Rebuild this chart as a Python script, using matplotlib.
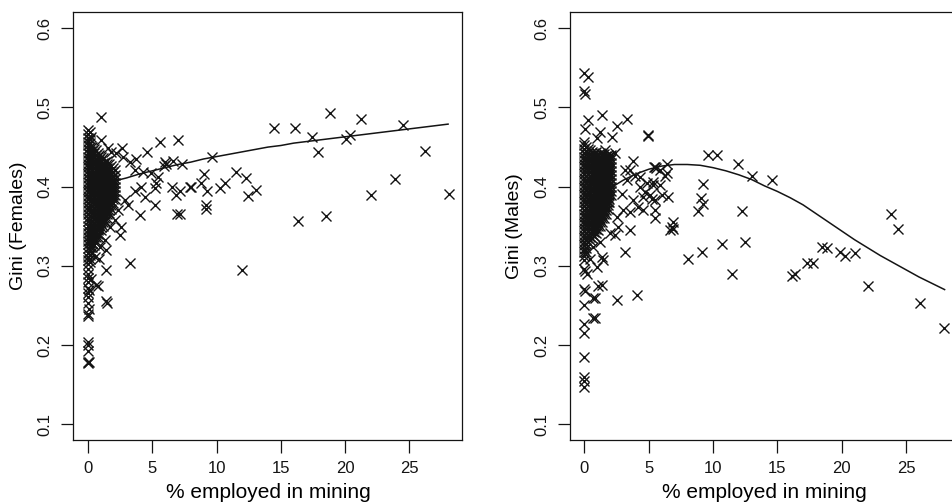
import numpy as np
import matplotlib
matplotlib.use("Agg")
import matplotlib.pyplot as plt

plt.rcParams['font.family'] = ['Liberation Sans', 'DejaVu Sans']

# ---------------- Females panel ----------------
# dense block of counties with little mining (columns of x, y values)
fem_blob_cols = [0.0, 0.15, 0.3, 0.45, 0.6, 0.75, 0.9, 1.05, 1.2, 1.35, 1.5, 1.65, 1.8, 1.95, 2.1]
fem_blob_vals = [
    [0.302, 0.307, 0.311, 0.316, 0.322, 0.327, 0.331, 0.336, 0.341, 0.345, 0.350, 0.356,
     0.361, 0.365, 0.370, 0.374, 0.379, 0.384, 0.388, 0.393, 0.397, 0.402, 0.406, 0.411,
     0.416, 0.420, 0.425, 0.429, 0.434, 0.438, 0.443, 0.447, 0.452, 0.457, 0.462, 0.466],
    [0.305, 0.309, 0.314, 0.319, 0.324, 0.329, 0.333, 0.338, 0.343, 0.348, 0.353, 0.358,
     0.363, 0.368, 0.372, 0.377, 0.382, 0.386, 0.391, 0.395, 0.400, 0.404, 0.409, 0.414,
     0.418, 0.423, 0.427, 0.432, 0.436, 0.441, 0.445, 0.450, 0.455, 0.460],
    [0.318, 0.324, 0.329, 0.334, 0.338, 0.343, 0.348, 0.352, 0.357, 0.362, 0.367, 0.371,
     0.376, 0.381, 0.385, 0.390, 0.394, 0.399, 0.404, 0.408, 0.413, 0.417, 0.422, 0.427,
     0.431, 0.436, 0.440, 0.445, 0.450],
    [0.326, 0.331, 0.336, 0.340, 0.345, 0.350, 0.354, 0.359, 0.364, 0.369, 0.373, 0.378,
     0.383, 0.387, 0.392, 0.396, 0.401, 0.405, 0.410, 0.415, 0.419, 0.424, 0.429, 0.433,
     0.438, 0.443, 0.448],
    [0.331, 0.337, 0.342, 0.347, 0.351, 0.356, 0.361, 0.366, 0.370, 0.375, 0.380, 0.384,
     0.389, 0.393, 0.398, 0.403, 0.407, 0.412, 0.416, 0.421, 0.426, 0.430, 0.435, 0.440, 0.446],
    [0.336, 0.340, 0.345, 0.349, 0.354, 0.358, 0.363, 0.368, 0.372, 0.377, 0.382, 0.386,
     0.391, 0.395, 0.400, 0.405, 0.409, 0.414, 0.418, 0.423, 0.428, 0.432, 0.437, 0.443],
    [0.340, 0.346, 0.351, 0.356, 0.360, 0.365, 0.370, 0.374, 0.379, 0.384, 0.388, 0.393,
     0.397, 0.402, 0.407, 0.411, 0.416, 0.420, 0.425, 0.430, 0.435, 0.440],
    [0.345, 0.349, 0.354, 0.358, 0.363, 0.367, 0.372, 0.376, 0.381, 0.386, 0.390, 0.395,
     0.399, 0.404, 0.409, 0.413, 0.418, 0.422, 0.427, 0.432, 0.438],
    [0.350, 0.355, 0.360, 0.365, 0.369, 0.374, 0.378, 0.383, 0.388, 0.392, 0.397, 0.401,
     0.406, 0.411, 0.415, 0.420, 0.425, 0.430, 0.436],
    [0.356, 0.360, 0.365, 0.369, 0.374, 0.378, 0.383, 0.387, 0.392, 0.396, 0.401, 0.406,
     0.410, 0.415, 0.420, 0.425, 0.431],
    [0.361, 0.366, 0.371, 0.376, 0.380, 0.385, 0.390, 0.394, 0.399, 0.403, 0.408, 0.413,
     0.418, 0.423, 0.428, 0.433],
    [0.367, 0.371, 0.376, 0.380, 0.385, 0.390, 0.394, 0.399, 0.404, 0.408, 0.413, 0.418,
     0.423, 0.428],
    [0.372, 0.377, 0.382, 0.387, 0.392, 0.396, 0.401, 0.406, 0.410, 0.415, 0.420, 0.426],
    [0.379, 0.384, 0.389, 0.394, 0.399, 0.404, 0.409, 0.414, 0.419, 0.424],
    [0.384, 0.390, 0.395, 0.400, 0.405, 0.410, 0.415, 0.421],
]

fem_x = [0.0, 0.0, 0.05, 0.0, 0.0, 0.0, 0.0, 0.0, 0.05, 0.0, 0.0, 0.0, 0.0, 0.0, 0.0, 0.0, 0.0,
         1.48, 0.65, 0.77, 0.26, 0.1, 1.38, 1.43, 0.52, 0.9, 1.43, 0.91, 1.3, 1.69, 2.6, 2.08,
         2.34, 2.86, 2.47, 3.25, 3.12, 4.08, 5.19, 6.96, 4.42, 3.64, 4.15, 5.19, 5.3, 6.5, 7.92,
         6.88, 3.64, 4.28, 4.94, 5.45, 6.1, 5.9, 2.68, 4.6, 3.77, 5.97, 5.58, 7.0, 1.04, 0.0,
         0.13, 0.26, 1.04, 1.82, 2.73, 3.25, 1.56, 2.21, 6.6, 7.3,
         9.66, 9.03, 8.0, 8.83, 9.27, 10.26, 10.65, 11.48, 12.26, 13.04, 12.46, 9.17, 9.17,
         11.95, 17.87, 16.35, 18.51, 22.0, 23.89, 26.17, 28.04, 7.14, 7.14,
         14.5, 16.1, 17.4, 18.8, 20.1, 20.4, 21.2, 24.5]
fem_y = [0.177, 0.178, 0.179, 0.193, 0.200, 0.204, 0.236, 0.239, 0.245, 0.253, 0.260, 0.266,
         0.272, 0.279, 0.285, 0.290, 0.296,
         0.253, 0.276, 0.274, 0.283, 0.270, 0.295, 0.255, 0.311, 0.308, 0.320, 0.324, 0.332,
         0.349, 0.349, 0.358, 0.370, 0.383, 0.339, 0.303, 0.377, 0.364, 0.377, 0.365, 0.387,
         0.395, 0.400, 0.398, 0.404, 0.400, 0.400, 0.389, 0.421, 0.419, 0.417, 0.412, 0.429,
         0.426, 0.449, 0.444, 0.435, 0.431, 0.456, 0.459, 0.488, 0.472, 0.469, 0.463, 0.459,
         0.444, 0.437, 0.431, 0.449, 0.442, 0.433, 0.428,
         0.437, 0.416, 0.400, 0.405, 0.395, 0.398, 0.404, 0.418, 0.411, 0.396, 0.388, 0.377,
         0.372, 0.295, 0.444, 0.357, 0.363, 0.390, 0.410, 0.445, 0.391, 0.395, 0.366,
         0.474, 0.474, 0.463, 0.493, 0.460, 0.465, 0.485, 0.478]

fem_fit_x = [0, 1, 2, 3, 4, 5, 6, 7, 8, 9, 10, 11, 12, 13, 14, 15, 16, 17, 18, 19, 20,
             21, 22, 23, 24, 25, 26, 27, 28]
fem_fit_y = [0.395, 0.402, 0.407, 0.411, 0.416, 0.420, 0.424, 0.428, 0.431, 0.435, 0.438,
             0.441, 0.444, 0.447, 0.450, 0.452, 0.455, 0.457, 0.459, 0.461, 0.463, 0.465,
             0.467, 0.469, 0.471, 0.473, 0.475, 0.477, 0.479]

# ---------------- Males panel ----------------
mal_blob_cols = [0.0, 0.15, 0.3, 0.45, 0.6, 0.75, 0.9, 1.05, 1.2, 1.35, 1.5, 1.65, 1.8, 1.95, 2.1]
mal_blob_vals = [
    [0.312, 0.317, 0.321, 0.326, 0.330, 0.335, 0.339, 0.344, 0.348, 0.353, 0.357, 0.362,
     0.366, 0.371, 0.375, 0.380, 0.384, 0.389, 0.393, 0.398, 0.402, 0.407, 0.411, 0.416,
     0.420, 0.425, 0.429, 0.434, 0.438, 0.443, 0.447, 0.452, 0.456],
    [0.318, 0.323, 0.328, 0.333, 0.337, 0.342, 0.346, 0.351, 0.355, 0.360, 0.364, 0.369,
     0.373, 0.378, 0.382, 0.387, 0.391, 0.396, 0.400, 0.405, 0.409, 0.414, 0.418, 0.423,
     0.427, 0.432, 0.436, 0.441, 0.445, 0.450],
    [0.330, 0.335, 0.339, 0.344, 0.348, 0.353, 0.357, 0.362, 0.366, 0.371, 0.375, 0.380,
     0.384, 0.389, 0.393, 0.398, 0.402, 0.407, 0.411, 0.416, 0.420, 0.425, 0.429, 0.434,
     0.438, 0.443, 0.447],
    [0.332, 0.337, 0.342, 0.346, 0.351, 0.355, 0.360, 0.364, 0.369, 0.373, 0.378, 0.382,
     0.387, 0.391, 0.396, 0.400, 0.405, 0.409, 0.414, 0.418, 0.423, 0.427, 0.432, 0.436,
     0.441, 0.446],
    [0.335, 0.340, 0.344, 0.349, 0.353, 0.358, 0.362, 0.367, 0.371, 0.376, 0.380, 0.385,
     0.389, 0.394, 0.398, 0.403, 0.407, 0.412, 0.416, 0.421, 0.425, 0.430, 0.434, 0.439, 0.444],
    [0.338, 0.343, 0.347, 0.352, 0.356, 0.361, 0.365, 0.370, 0.374, 0.379, 0.383, 0.388,
     0.392, 0.397, 0.401, 0.406, 0.410, 0.415, 0.419, 0.424, 0.428, 0.433, 0.437, 0.442],
    [0.341, 0.346, 0.350, 0.355, 0.359, 0.364, 0.368, 0.373, 0.377, 0.382, 0.386, 0.391,
     0.395, 0.400, 0.404, 0.409, 0.413, 0.418, 0.422, 0.427, 0.431, 0.436, 0.440, 0.444],
    [0.345, 0.350, 0.354, 0.359, 0.363, 0.368, 0.372, 0.377, 0.381, 0.386, 0.390, 0.395,
     0.399, 0.404, 0.408, 0.413, 0.417, 0.422, 0.426, 0.431, 0.435, 0.440],
    [0.350, 0.355, 0.359, 0.364, 0.368, 0.373, 0.377, 0.382, 0.386, 0.391, 0.395, 0.400,
     0.404, 0.409, 0.413, 0.418, 0.422, 0.427, 0.431, 0.436, 0.442],
    [0.355, 0.360, 0.364, 0.369, 0.373, 0.378, 0.382, 0.387, 0.391, 0.396, 0.400, 0.405,
     0.409, 0.414, 0.418, 0.423, 0.427, 0.432, 0.436, 0.441],
    [0.360, 0.365, 0.369, 0.374, 0.378, 0.383, 0.387, 0.392, 0.396, 0.401, 0.405, 0.410,
     0.414, 0.419, 0.423, 0.428, 0.432, 0.437, 0.441],
    [0.366, 0.371, 0.375, 0.380, 0.384, 0.389, 0.393, 0.398, 0.402, 0.407, 0.411, 0.416,
     0.420, 0.425, 0.429, 0.434, 0.439],
    [0.372, 0.377, 0.381, 0.386, 0.390, 0.395, 0.399, 0.404, 0.408, 0.413, 0.417, 0.422,
     0.426, 0.431, 0.435, 0.440],
    [0.380, 0.385, 0.389, 0.394, 0.398, 0.403, 0.407, 0.412, 0.416, 0.421, 0.425, 0.430,
     0.434, 0.439],
    [0.390, 0.395, 0.400, 0.405, 0.410, 0.415, 0.420, 0.425, 0.430, 0.435, 0.440],
]

mal_x = [0.0, 0.3, 0.0, 0.05, 0.05, 0.31, 1.35, 2.52, 3.29, 4.93, 1.22, 0.96, 2.13, 1.61,
         2.39, 3.81, 3.16, 4.33, 3.81, 3.55, 3.16, 2.39, 1.35, 0.96, 0.0, 0.0, 0.05, 0.0,
         0.05, 1.09, 1.35, 0.7, 0.83, 2.52, 4.12, 0.0, 0.0, 0.7, 0.83, 0.0, 0.0, 0.0, 0.0, 0.0,
         4.97, 9.63, 10.29, 11.92, 13.05, 14.56, 5.49, 5.55, 6.4, 9.25, 9.07, 9.25, 8.86,
         12.23, 6.92, 6.92, 6.8, 6.66, 8.03, 9.17, 10.68, 12.49, 11.5, 16.11, 16.37, 17.28,
         17.79, 18.45, 18.83, 19.87, 20.26, 21.03, 22.02, 23.83, 24.4, 26.11, 27.95,
         4.85, 5.36, 5.88, 4.58, 5.24, 5.49, 4.58, 5.49, 6.01, 6.53, 3.55, 3.94, 4.33, 4.71,
         5.1, 5.49, 3.29, 2.9, 3.03, 2.52, 3.55, 2.64, 2.0, 1.22, 0.7, 0.44, 0.18, 1.48, 4.2,
         5.36, 5.88, 6.27, 5.44, 6.4]
mal_y = [0.543, 0.538, 0.521, 0.517, 0.473, 0.484, 0.490, 0.477, 0.486, 0.464, 0.469, 0.461,
         0.463, 0.446, 0.442, 0.433, 0.421, 0.412, 0.383, 0.345, 0.318, 0.339, 0.311, 0.299,
         0.307, 0.296, 0.293, 0.271, 0.268, 0.274, 0.276, 0.259, 0.259, 0.257, 0.263, 0.250,
         0.227, 0.234, 0.234, 0.215, 0.185, 0.160, 0.155, 0.147,
         0.465, 0.440, 0.440, 0.429, 0.414, 0.409, 0.425, 0.424, 0.417, 0.403, 0.386, 0.378,
         0.369, 0.369, 0.355, 0.347, 0.349, 0.345, 0.308, 0.318, 0.328, 0.330, 0.290, 0.287,
         0.290, 0.303, 0.303, 0.324, 0.322, 0.318, 0.313, 0.316, 0.274, 0.366, 0.347, 0.253,
         0.221,
         0.404, 0.402, 0.402, 0.387, 0.385, 0.370, 0.370, 0.360, 0.389, 0.387, 0.421, 0.414,
         0.400, 0.393, 0.389, 0.383, 0.408, 0.391, 0.370, 0.362, 0.368, 0.349, 0.341, 0.330,
         0.324, 0.309, 0.290, 0.307, 0.374, 0.406, 0.421, 0.414, 0.425, 0.429]

mal_fit_x = [0, 1, 2, 3, 4, 5, 6, 7, 8, 9, 10, 11, 12, 13, 14, 15, 16, 17, 18, 19, 20,
             21, 22, 23, 24, 25, 26, 27, 28]
mal_fit_y = [0.380, 0.390, 0.398, 0.408, 0.416, 0.422, 0.426, 0.428, 0.428, 0.427, 0.424,
             0.420, 0.415, 0.409, 0.401, 0.394, 0.386, 0.377, 0.366, 0.355, 0.344, 0.333,
             0.323, 0.313, 0.304, 0.295, 0.286, 0.278, 0.270]

xticks = [0, 5, 10, 15, 20, 25]
yticks = [0.1, 0.2, 0.3, 0.4, 0.5, 0.6]


def blob_points(cols, vals):
    bx, by = [], []
    for cx, ys in zip(cols, vals):
        bx += [cx] * len(ys)
        by += ys
    return bx, by


fig = plt.figure(figsize=(9.53, 5.04), dpi=100)
ax1 = fig.add_axes([0.0771, 0.1270, 0.4082, 0.8482])
ax2 = fig.add_axes([0.5981, 0.1270, 0.4082, 0.8482])

panels = [
    (ax1, fem_blob_cols, fem_blob_vals, fem_x, fem_y, fem_fit_x, fem_fit_y, "Gini (Females)"),
    (ax2, mal_blob_cols, mal_blob_vals, mal_x, mal_y, mal_fit_x, mal_fit_y, "Gini (Males)"),
]

for ax, bc, bv, px, py, fx, fy, ylab in panels:
    bx, by = blob_points(bc, bv)
    ax.plot(bx + px, by + py, linestyle="none", marker="x", ms=7.5, mew=1.0, color="#141414")
    ax.plot(fx, fy, color="#141414", lw=1.1)
    ax.set_xlim(-1.12, 29.12)
    ax.set_ylim(0.08, 0.62)
    ax.set_xticks(xticks)
    ax.set_yticks(yticks)
    ax.set_yticklabels([f"{v:.1f}" for v in yticks], rotation=90, va="center")
    ax.tick_params(direction="out", length=9, width=0.9, labelsize=12, pad=6, colors="#141414")
    for s in ax.spines.values():
        s.set_linewidth(0.9)
        s.set_color("#141414")
    ax.set_xlabel("% employed in mining", fontsize=15, labelpad=5)
    ax.set_ylabel(ylab, fontsize=14, labelpad=8)

fig.savefig("out.png", dpi=100)
